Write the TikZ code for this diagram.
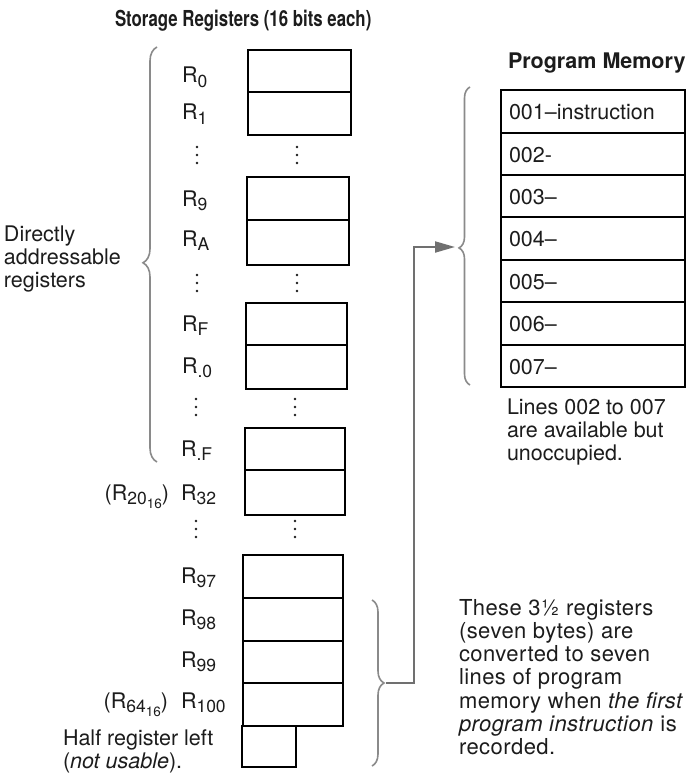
\documentclass[tikz,border=0pt]{standalone}
\usepackage{fontspec}
\usepackage{graphicx}
\setmainfont{TeX Gyre Heros}
\usetikzlibrary{decorations.pathreplacing,arrows.meta}
\definecolor{ink}{HTML}{1C1C1C}
\definecolor{bracec}{HTML}{8A8A8A}
\definecolor{connc}{HTML}{707070}
\newcommand{\sbs}[1]{\raisebox{-4.5pt}{\fontsize{17.5}{17.5}\selectfont #1}}
\newcommand{\ssbs}[1]{\raisebox{-4pt}{\fontsize{13.5}{13.5}\selectfont #1}}
\begin{document}
\begin{tikzpicture}[x=1pt,y=-1pt,
  cell/.style={draw=black, line width=2pt, inner sep=0pt, outer sep=0pt, anchor=north west},
  txt/.style={inner sep=0pt, outer sep=0pt, text=ink, font=\fontsize{21.5}{23.3}\selectfont},
  lbl/.style={txt, anchor=base west},
  pre/.style={txt, anchor=base east},
  para/.style={txt, anchor=north west, align=left},
  brc/.style={draw=bracec, line width=1.6pt, decorate},
  conn/.style={draw=connc, line width=2pt, -{Triangle[length=20pt,width=11pt]}},
  vd/.pic={\fill[ink] (0,-8) circle (1.3pt) (0,0) circle (1.3pt) (0,8) circle (1.3pt);}
]
\useasboundingbox (0,0) rectangle (687,773);
\fill[white] (0,0) rectangle (687,773);

% title
\node[txt, anchor=base west] (title) at (115,27) {\scalebox{0.765}[1]{\fontsize{22}{22}\selectfont\bfseries Storage Registers (16 bits each)}};
\node[txt, anchor=base west] (pmtitle) at (508,69) {\bfseries Program Memory};

% register cells
\node[cell, minimum width=103pt, minimum height=42pt] (c0) at (248,50) {};
\node[cell, minimum width=103pt, minimum height=43pt] (c1) at (248,92) {};
\node[cell, minimum width=102pt, minimum height=43pt] (c9) at (247,177) {};
\node[cell, minimum width=102pt, minimum height=45pt] (cA) at (247,220) {};
\node[cell, minimum width=101pt, minimum height=42pt] (cF) at (246,303) {};
\node[cell, minimum width=101pt, minimum height=44pt] (cp0) at (246,345) {};
\node[cell, minimum width=100pt, minimum height=42pt] (cpF) at (245,428) {};
\node[cell, minimum width=100pt, minimum height=45pt] (c32) at (245,470) {};
\node[cell, minimum width=100pt, minimum height=43pt] (c97) at (243,555) {};
\node[cell, minimum width=100pt, minimum height=43pt] (c98) at (243,598) {};
\node[cell, minimum width=100pt, minimum height=42pt] (c99) at (243,641) {};
\node[cell, minimum width=100pt, minimum height=43pt] (c100) at (243,683) {};
\node[cell, minimum width=54pt, minimum height=41pt] (chalf) at (242,726) {};

% register labels
\node[lbl] (l0) at (182,83) {R\sbs{0}};
\node[lbl] (l1) at (182,120) {R\sbs{1}};
\node[lbl] (l9) at (182,206) {R\sbs{9}};
\node[lbl] (lA) at (182,246) {R\sbs{A}};
\node[lbl] (lF) at (182,331) {R\sbs{F}};
\node[lbl] (lp0) at (182,373) {R\sbs{.0}};
\node[lbl] (lpF) at (181,456) {R\sbs{.F}};
\node[lbl] (l32) at (181,500) {R\sbs{32}};
\node[pre] (l32h) at (169,500) {(R\sbs{20\ssbs{16}})};
\node[lbl] (l97) at (181,583) {R\sbs{97}};
\node[lbl] (l98) at (181,625) {R\sbs{98}};
\node[lbl] (l99) at (181,667) {R\sbs{99}};
\node[lbl] (l100) at (181,708) {R\sbs{100}};
\node[pre] (l100h) at (168,708) {(R\sbs{64\ssbs{16}})};
\node[para] (half) at (63,729.5) {Half register left\\(\textit{not usable}).};

% vertical dots
\pic at (197,155) {vd};
\pic at (297,155) {vd};
\pic at (197,283) {vd};
\pic at (297,283) {vd};
\pic at (196,407) {vd};
\pic at (295,407) {vd};
\pic at (196,529) {vd};
\pic at (295,529) {vd};

% left brace and its label
\draw[brc, decoration={brace, amplitude=14pt, aspect=0.48}] (157,462) -- (157,47);
\node[para] (direct) at (4,225.5) {Directly\\addressable\\registers};

% program memory cells
\node[cell, minimum width=184pt, minimum height=43pt] (p1) at (501,90) {};
\node[cell, minimum width=184pt, minimum height=42pt] (p2) at (501,133) {};
\node[cell, minimum width=184pt, minimum height=42pt] (p3) at (501,175) {};
\node[cell, minimum width=184pt, minimum height=43pt] (p4) at (501,217) {};
\node[cell, minimum width=184pt, minimum height=42pt] (p5) at (501,260) {};
\node[cell, minimum width=184pt, minimum height=43pt] (p6) at (501,302) {};
\node[cell, minimum width=184pt, minimum height=42pt] (p7) at (501,345) {};
\node[lbl] (t1) at (509,120) {001–instruction};
\node[lbl] (t2) at (509,162) {002-};
\node[lbl] (t3) at (509,204) {003–};
\node[lbl] (t4) at (509,246) {004–};
\node[lbl] (t5) at (509,289) {005–};
\node[lbl] (t6) at (509,331) {006–};
\node[lbl] (t7) at (509,374) {007–};
\node[para] (lines) at (507,398.5) {Lines 002 to 007\\are available but\\unoccupied.};

% program memory brace
\draw[brc, decoration={brace, amplitude=11pt, aspect=0.46}] (470,385) -- (470,87);

% right brace and note
\draw[brc, decoration={brace, amplitude=12pt, aspect=0.5}] (372,600) -- (372,766);
\node[para, font=\fontsize{22}{23.3}\selectfont\addfontfeatures{LetterSpace=2}] (note) at (459,599) {These 3½ registers\\(seven bytes) are\\converted to seven\\lines of program\\memory when \textit{the first}\\\textit{program instruction} is\\recorded.};

% connector
\coordinate (rbt) at (386,683);
\coordinate (bend) at (414,683);
\coordinate (pmt) at (455,247);
\draw[conn] (rbt) -- (bend) |- (pmt);
\end{tikzpicture}
\end{document}
